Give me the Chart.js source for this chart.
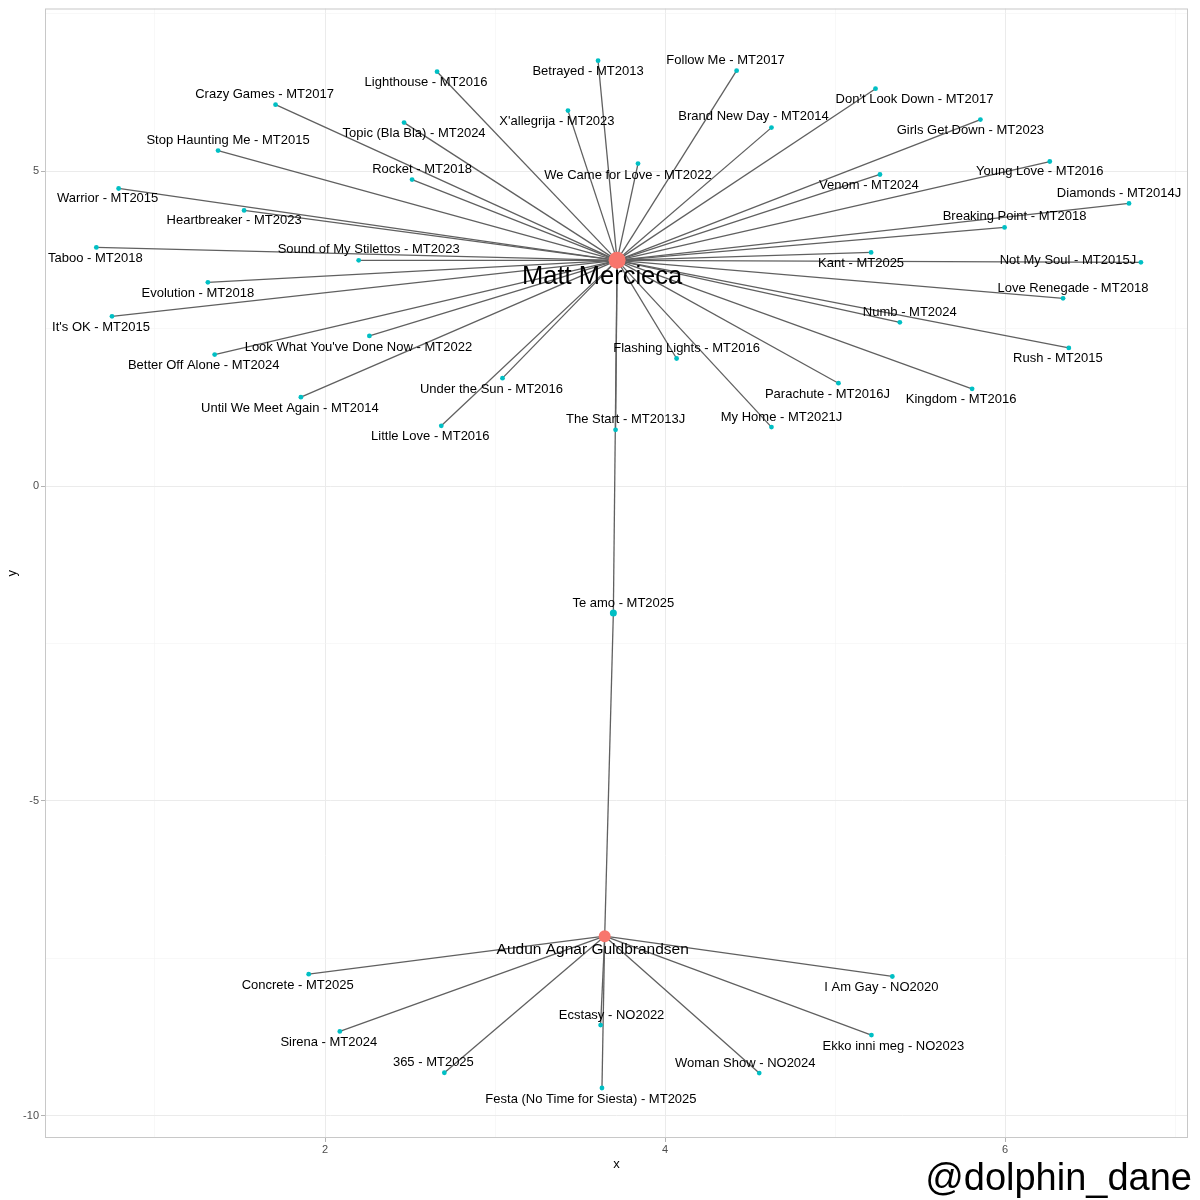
<!DOCTYPE html>
<html>
<head>
<meta charset="utf-8">
<script src="https://cdn.jsdelivr.net/npm/chart.js@4.4.1/dist/chart.umd.min.js"></script>
<style>
  html, body { margin: 0; padding: 0; background: #fff; }
  canvas { display: block; }
</style>
</head>
<body>
<canvas id="chart" width="1200" height="1200"></canvas>
<script>
// artists (hub nodes)
var artistNames = ['Matt Mercieca', 'Audun Agnar Guldbrandsen'];
var artistX = [3.718, 3.645];
var artistY = [3.582, -7.147];

// songs (leaf nodes) and which artist(s) they link to
var songNames = [
  'Betrayed - MT2013', 'Lighthouse - MT2016', 'Crazy Games - MT2017', 'Topic (Bla Bla) - MT2024',
  'Stop Haunting Me - MT2015', 'Rocket - MT2018', 'Warrior - MT2015', 'Heartbreaker - MT2023',
  'Taboo - MT2018', 'Sound of My Stilettos - MT2023', 'Evolution - MT2018', "X'allegrija - MT2023",
  'We Came for Love - MT2022', 'Follow Me - MT2017', 'Brand New Day - MT2014', "Don't Look Down - MT2017",
  'Girls Get Down - MT2023', 'Venom - MT2024', 'Young Love - MT2016', 'Diamonds - MT2014J',
  'Breaking Point - MT2018', 'Kant - MT2025', 'Not My Soul - MT2015J', 'Love Renegade - MT2018',
  "It's OK - MT2015", "Look What You've Done Now - MT2022", 'Better Off Alone - MT2024', 'Under the Sun - MT2016',
  'Until We Meet Again - MT2014', 'Little Love - MT2016', 'The Start - MT2013J', 'Numb - MT2024',
  'Rush - MT2015', 'Flashing Lights - MT2016', 'Parachute - MT2016J', 'Kingdom - MT2016',
  'My Home - MT2021J', 'Te amo - MT2025', 'Concrete - MT2025', 'I Am Gay - NO2020',
  'Ecstasy - NO2022', 'Sirena - MT2024', 'Ekko inni meg - NO2023', '365 - MT2025',
  'Woman Show - NO2024', 'Festa (No Time for Siesta) - MT2025'
];
var songX = [
  3.606, 2.659, 1.709, 2.465, 1.371, 2.512, 0.786, 1.524,
  0.655, 2.198, 1.311, 3.429, 3.841, 4.421, 4.626, 5.238,
  5.855, 5.264, 6.263, 6.729, 5.997, 5.212, 6.799, 6.341,
  0.747, 2.261, 1.351, 3.044, 1.858, 2.684, 3.709, 5.381,
  6.375, 4.068, 5.020, 5.806, 4.626, 3.696, 1.904, 5.337,
  3.621, 2.087, 5.214, 2.702, 4.554, 3.629
];
var songY = [
  6.751, 6.577, 6.054, 5.769, 5.325, 4.865, 4.723, 4.374,
  3.788, 3.582, 3.233, 5.959, 5.119, 6.593, 5.689, 6.307,
  5.816, 4.945, 5.151, 4.485, 4.105, 3.708, 3.550, 2.979,
  2.694, 2.382, 2.087, 1.712, 1.410, 0.956, 0.892, 2.599,
  2.192, 2.024, 1.632, 1.542, 0.935, -2.017, -7.750, -7.786,
  -8.558, -8.658, -8.716, -9.314, -9.319, -9.556
];
var M = [0], A = [1], MA = [0, 1];
var songArtists = [
  M, M, M, M, M, M, M, M,
  M, M, M, M, M, M, M, M,
  M, M, M, M, M, M, M, M,
  M, M, M, M, M, M, M, M,
  M, M, M, M, M, MA, A, A,
  A, A, A, A, A, A
];

// label nudges in pixels (repelled text placement)
var songLabelDx = [
  -10, -11, -11, 10, 10, 10, -11, -10,
  -1, 10, -10, -11, -10, -11, -18, 39,
  -10, -11, -10, -10, 10, -10, -73, 10,
  -11, -11, -11, -11, -11, -11, 10, 10,
  -11, 10, -11, -11, 10, 10, -11, -11,
  11, -11, 22, -11, -14, -11
];
var songLabelDy = [
  11, 11, -10, 11, -10, -10, 10, 10,
  11, -11, 11, 11, 12, -10, -11, 11,
  11, 11, 10, -10, -11, 11, -2, -10,
  11, 11, 11, 11, 11, 11, -10, -10,
  11, -10, 11, 11, -10, -10, 11, 11,
  -10, 11, 11, -10, -10, 11
];
var artistLabelDx = [-15, -12];
var artistLabelDy = [17, 13];
var artistLabelSize = [25.5, 15.5];
var artistRadius = [8.5, 6];

var FONT = '"Liberation Sans", Arial, Helvetica, sans-serif';

// build edge datasets, one per link
var edgeSets = [];
for (var i = 0; i < songNames.length; i++) {
  songArtists[i].forEach(function(a) {
    edgeSets.push({
      data: [{x: artistX[a], y: artistY[a]}, {x: songX[i], y: songY[i]}],
      showLine: true,
      borderColor: '#606060',
      borderWidth: 1.3,
      pointRadius: 0,
      order: 2
    });
  });
}

var songPoints = songNames.map(function(n, i) { return {x: songX[i], y: songY[i]}; });
var artistPoints = artistNames.map(function(n, i) { return {x: artistX[i], y: artistY[i]}; });

var labelPlugin = {
  id: 'nodeLabels',
  afterDatasetsDraw: function(chart) {
    var ctx = chart.ctx, a = chart.chartArea;
    var xs = chart.scales.x, ys = chart.scales.y;
    ctx.save();
    ctx.strokeStyle = '#C8C8C8';
    ctx.lineWidth = 1;
    ctx.strokeRect(a.left + 0.5, a.top + 0.5, a.right - a.left - 1, a.bottom - a.top - 1);

    ctx.fillStyle = '#000000';
    ctx.textAlign = 'center';
    ctx.textBaseline = 'middle';
    ctx.font = '13px ' + FONT;
    songNames.forEach(function(name, i) {
      ctx.fillText(name, xs.getPixelForValue(songX[i]) + songLabelDx[i], ys.getPixelForValue(songY[i]) + songLabelDy[i]);
    });
    artistNames.forEach(function(name, i) {
      ctx.font = artistLabelSize[i] + 'px ' + FONT;
      ctx.fillText(name, xs.getPixelForValue(artistX[i]) + artistLabelDx[i], ys.getPixelForValue(artistY[i]) + artistLabelDy[i]);
    });
    ctx.restore();
  },
  afterDraw: function(chart) {
    var ctx = chart.ctx;
    ctx.save();
    ctx.fillStyle = '#000000';
    ctx.font = '38px ' + FONT;
    ctx.textAlign = 'right';
    ctx.textBaseline = 'alphabetic';
    ctx.fillText('@dolphin_dane', 1192, 1190);
    ctx.restore();
  }
};

function isMajor(ctx, step) {
  return ctx.tick && Math.abs(ctx.tick.value % step) < 1e-9;
}

new Chart(document.getElementById('chart'), {
  type: 'scatter',
  data: {
    datasets: [
      {
        data: artistPoints,
        pointRadius: artistRadius,
        pointBackgroundColor: '#F8766D',
        pointBorderWidth: 0,
        order: 0
      },
      {
        data: songPoints,
        pointRadius: songArtists.map(function(s) { return s.length > 1 ? 3.5 : 2.4; }),
        pointBackgroundColor: '#00BFC4',
        pointBorderWidth: 0,
        order: 1
      }
    ].concat(edgeSets)
  },
  options: {
    responsive: false,
    animation: false,
    devicePixelRatio: 1,
    layout: { padding: { top: 6, right: 12, left: 0, bottom: 0 } },
    plugins: { legend: { display: false }, tooltip: { enabled: false } },
    scales: {
      x: {
        type: 'linear',
        min: 0.353,
        max: 7.076,
        afterFit: function(s) { s.height = 62; s.paddingLeft = 0; s.paddingRight = 0; },
        border: { display: false },
        grid: {
          color: function(c) { return isMajor(c, 2) ? '#EBEBEB' : '#F4F4F4'; },
          lineWidth: function(c) { return isMajor(c, 2) ? 1 : 0.6; },
          tickColor: function(c) { return isMajor(c, 2) ? '#B3B3B3' : 'rgba(0,0,0,0)'; },
          tickLength: 4
        },
        ticks: {
          stepSize: 1,
          includeBounds: false,
          autoSkip: false,
          maxRotation: 0,
          padding: 1,
          color: '#4D4D4D',
          font: { family: FONT, size: 11 },
          callback: function(v) { return v % 2 === 0 ? String(v) : ''; }
        },
        title: {
          display: true,
          text: 'x',
          color: '#000000',
          font: { family: FONT, size: 13 },
          padding: { top: 0, bottom: 28 }
        }
      },
      y: {
        type: 'linear',
        min: -10.35,
        max: 7.58,
        afterFit: function(s) { s.width = 45; s.paddingTop = 0; s.paddingBottom = 0; },
        border: { display: false },
        grid: {
          color: function(c) { return isMajor(c, 5) ? '#EBEBEB' : '#F4F4F4'; },
          lineWidth: function(c) { return isMajor(c, 5) ? 1 : 0.6; },
          tickColor: function(c) { return isMajor(c, 5) ? '#B3B3B3' : 'rgba(0,0,0,0)'; },
          tickLength: 4
        },
        ticks: {
          stepSize: 2.5,
          includeBounds: false,
          autoSkip: false,
          padding: 2,
          color: '#4D4D4D',
          font: { family: FONT, size: 11 },
          callback: function(v) { return v % 5 === 0 ? String(v) : ''; }
        },
        title: {
          display: true,
          text: 'y',
          color: '#000000',
          font: { family: FONT, size: 13 },
          padding: { top: 5, bottom: 0 }
        }
      }
    }
  },
  plugins: [labelPlugin]
});
</script>
</body>
</html>
